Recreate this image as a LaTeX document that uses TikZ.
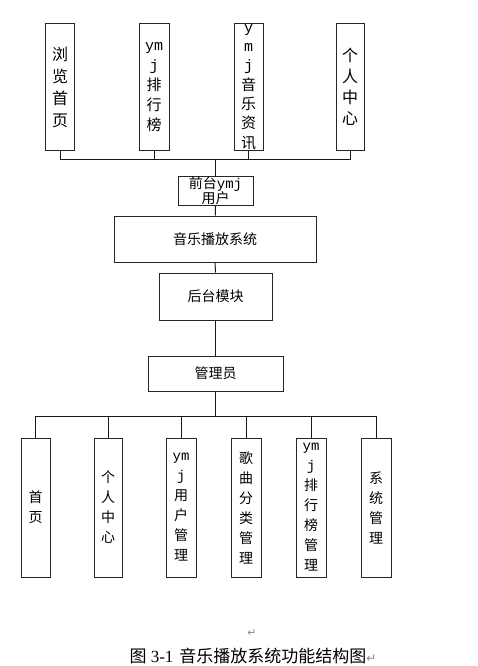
\documentclass[tikz,border=0pt]{standalone}
\usepackage{fontspec}
\setmainfont{Liberation Serif}
\newfontfamily\cjk{Noto Sans CJK SC}
\newfontfamily\symb{DejaVu Sans}
\newfontfamily\latn{Liberation Mono}
\newcommand{\ymj}{{\latn ym}\\{\latn j}}
\usetikzlibrary{positioning}

\tikzset{
  box/.style={draw=black!85, line width=1pt, fill=white, inner sep=0pt},
  vbox/.style={box, minimum width=29pt, minimum height=126pt},
  lbox/.style={box, minimum width=30pt, minimum height=139pt},
  ttext/.style={font=\cjk\fontsize{15}{20}\selectfont, align=center, inner sep=0pt},
  btext/.style={font=\cjk\fontsize{14}{20}\selectfont, align=center, inner sep=0pt},
  htext/.style={font=\cjk\fontsize{14}{15}\selectfont, align=center},
  link/.style={draw=black!90, line width=1pt}
}

\begin{document}
\begin{tikzpicture}[x=1pt, y=-1pt]
\useasboundingbox (0,0) rectangle (477,666);
% front end
\node[vbox, label={[ttext, font=\cjk\fontsize{16}{22}\selectfont]center:{浏\\览\\首\\页}}] (liulan) at (60,87) {};
\node[vbox, minimum width=30pt, label={[ttext]center:{\ymj\\排\\行\\榜}}] (paihang) at (154,87) {};
\node[vbox, label={[ttext, font=\cjk\fontsize{15}{19.3}\selectfont]center:{{\latn y}\\{\latn m}\\{\latn j}\\音\\乐\\资\\讯}}] (zixun) at (248.5,87) {};
\node[vbox, minimum width=28pt, label={[ttext, font=\cjk\fontsize{16}{21}\selectfont]center:{个\\人\\中\\心}}] (geren) at (350,87) {};
\coordinate (busT) at (216,159);

\node[box, minimum width=75pt, minimum height=29pt, htext] (qiantai) at (215.5,190.5) {前台{\latn ymj}\\用户};
\node[box, minimum width=202pt, minimum height=46pt, htext] (xitong) at (215,239) {音乐播放系统};
\node[box, minimum width=113pt, minimum height=47pt, htext] (houtai) at (215.5,296.5) {后台模块};
\node[box, minimum width=135pt, minimum height=35pt, htext] (guanli) at (215.5,373.5) {管理员};
\coordinate (busB) at (216,416);

% back end
\node[lbox, minimum width=29pt, label={[btext]center:{首\\页}}] (shouye) at (35.5,507.5) {};
\node[lbox, minimum width=28pt, label={[btext]center:{个\\人\\中\\心}}] (gerenB) at (108,507.5) {};
\node[lbox, label={[btext]center:{\ymj\\用\\户\\管\\理}}] (yonghu) at (181,507.5) {};
\node[lbox, label={[btext]center:{歌\\曲\\分\\类\\管\\理}}] (gequ) at (246,507.5) {};
\node[lbox, label={[btext]center:{\ymj\\排\\行\\榜\\管\\理}}] (paihangB) at (311,507.5) {};
\node[lbox, label={[btext]center:{系\\统\\管\\理}}] (guanliB) at (376,507.5) {};

% connectors
\foreach \t in {liulan,paihang,zixun,geren}
  \draw[link] (\t.south) -- (\t.south |- busT) -| (qiantai.north);
\draw[link] (qiantai) -- (xitong);
\draw[link] (xitong) -- (houtai);
\draw[link] (houtai) -- (guanli);
\foreach \b in {shouye,gerenB,yonghu,gequ,paihangB,guanliB}
  \draw[link] (guanli.south) -- (guanli.south |- busB) -| (\b.north);

% caption
\node[font=\symb\fontsize{11}{11}\selectfont, text=black!45] (mark) at (252,633) {↵};
\node[font=\fontsize{17}{17}\selectfont, inner sep=0pt] (caption) at (253,656)
  {{\cjk 图} 3-1\hspace{6pt}{\cjk 音乐播放系统功能结构图}{\symb\fontsize{12}{12}\selectfont\color{black!45}↵}};
\end{tikzpicture}
\end{document}
